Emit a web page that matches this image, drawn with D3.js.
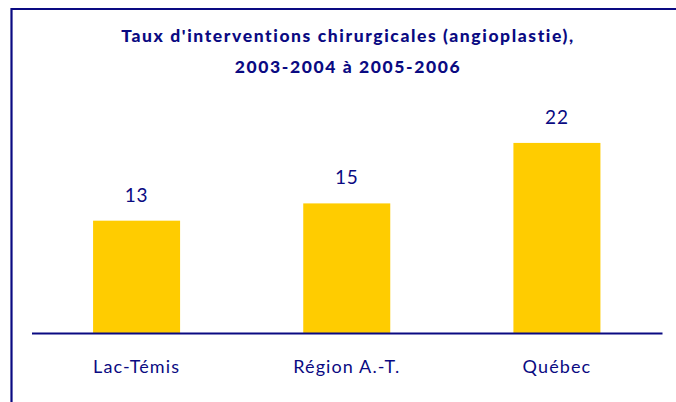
<!DOCTYPE html>
<html>
<head>
<meta charset="utf-8">
<script src="https://cdn.jsdelivr.net/npm/d3@7"></script>
<style>
  html, body { margin: 0; padding: 0; background: #fff; }
  svg { display: block; }
</style>
</head>
<body>
<script>
const categories = ["Lac-Témis", "Région A.-T.", "Québec"];
const values = [13, 15, 22];
const titleLines = ["Taux d'interventions chirurgicales (angioplastie),", "2003-2004 à 2005-2006"];

const W = 676, H = 402;
const navy = "#0a0a82";
const gold = "#FFCC00";
const font = "Lato, 'Open Sans', sans-serif";

const svg = d3.select("body").append("svg")
  .attr("width", W).attr("height", H);

svg.append("rect").attr("width", W).attr("height", H).attr("fill", "#fff");

// frame (top and left visible, right/bottom clipped)
svg.append("path")
  .attr("d", `M11.5,${H + 5} V9 H${W + 5}`)
  .attr("fill", "none")
  .attr("stroke", navy)
  .attr("stroke-width", 2.2);

// title
svg.append("g").selectAll("text").data(titleLines).join("text")
  .attr("x", 348)
  .attr("y", (d, i) => 42 + i * 31)
  .attr("text-anchor", "middle")
  .attr("font-family", font)
  .attr("font-weight", 900)
  .attr("font-size", 17.5)
  .attr("letter-spacing", 1.6)
  .attr("fill", navy)
  .text(d => d);

const x = d3.scaleBand()
  .domain(categories)
  .range([31.5, 662])
  .paddingInner(0.586)
  .paddingOuter(0.293);

const y = d3.scaleLinear()
  .domain([0, 25])
  .range([333, 117]);

// bars
svg.append("g").selectAll("rect").data(values).join("rect")
  .attr("x", (d, i) => x(categories[i]))
  .attr("y", d => y(d))
  .attr("width", x.bandwidth())
  .attr("height", d => y(0) - y(d))
  .attr("fill", gold);

// value labels
svg.append("g").selectAll("text").data(values).join("text")
  .attr("x", (d, i) => x(categories[i]) + x.bandwidth() / 2)
  .attr("y", d => y(d) - 19)
  .attr("text-anchor", "middle")
  .attr("font-family", font)
  .attr("font-size", 19)
  .attr("letter-spacing", 0.8)
  .attr("fill", navy)
  .text(d => d);

// x axis
const xAxis = svg.append("g")
  .attr("transform", `translate(0,${y(0)})`)
  .call(d3.axisBottom(x).tickSize(0).tickPadding(0));
xAxis.select(".domain")
  .attr("stroke", navy)
  .attr("stroke-width", 2.2);
xAxis.selectAll(".tick text")
  .attr("dy", 0)
  .attr("y", 40)
  .attr("font-family", font)
  .attr("font-size", 18)
  .attr("letter-spacing", 1.1)
  .attr("fill", navy);
</script>
</body>
</html>
